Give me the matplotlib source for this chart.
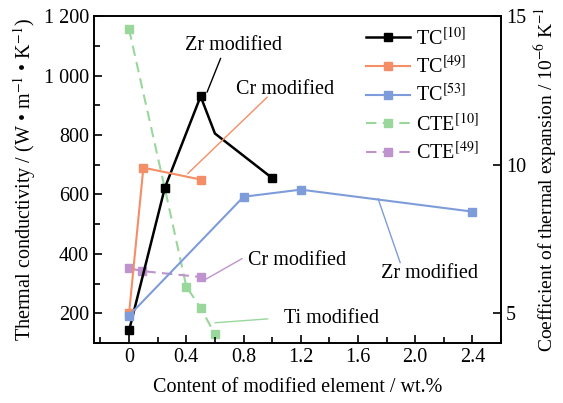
import numpy as np
import matplotlib.pyplot as plt
from matplotlib.ticker import MultipleLocator, FuncFormatter

plt.rcParams['font.family'] = ['Liberation Serif', 'DejaVu Serif']
plt.rcParams['mathtext.fontset'] = 'stix'

# TC data (left axis)
x_tc10 = [0, 0.25, 0.5, 0.6, 1.0]
y_tc10 = [142, 622, 930, 805, 655]
x_tc49 = [0, 0.1, 0.5]
y_tc49 = [200, 690, 650]
x_tc53 = [0, 0.8, 1.2, 2.4]
y_tc53 = [192, 592, 616, 542]

# CTE data (right axis)
x_cte10 = [0, 0.25, 0.4, 0.5, 0.6]
y_cte10 = [14.55, 9.2, 5.9, 5.18, 4.3]
x_cte49 = [0, 0.09, 0.5]
y_cte49 = [6.52, 6.42, 6.22]

c_black = 'black'
c_orange = '#F38E66'
c_blue = '#7E9CDA'
c_green = '#9AD79C'
c_purple = '#BE93CE'

fs = 14.5

fig = plt.figure(figsize=(5.63, 4.03), dpi=100)
ax = fig.add_axes([0.167, 0.149, 0.723, 0.811])
ax2 = ax.twinx()

ax2.plot(x_cte10, y_cte10, '--s', color=c_green, lw=1.5, ms=5.5, dashes=(5, 3), label='CTE$^{[10]}$', zorder=1)
ax2.plot(x_cte49, y_cte49, '--s', color=c_purple, lw=1.5, ms=5.5, dashes=(5, 3), label='CTE$^{[49]}$', zorder=1)

ax.set_zorder(ax2.get_zorder() + 1)
ax.patch.set_visible(False)

l1, = ax.plot(x_tc10, y_tc10, '-s', color=c_black, lw=1.8, ms=5.5, markevery=[0, 1, 2, 4], label='TC$^{[10]}$')
l2, = ax.plot(x_tc49, y_tc49, '-s', color=c_orange, lw=1.5, ms=5.5, label='TC$^{[49]}$')
l3, = ax.plot(x_tc53, y_tc53, '-s', color=c_blue, lw=1.5, ms=5.5, mfc=c_blue, label='TC$^{[53]}$')

ax.set_xlim(-0.245, 2.6)
ax.set_ylim(100, 1200)
ax2.set_ylim(4, 15)

ax.xaxis.set_major_locator(MultipleLocator(0.4))
ax.xaxis.set_minor_locator(MultipleLocator(0.2))
ax.yaxis.set_major_locator(MultipleLocator(200))
ax.yaxis.set_minor_locator(MultipleLocator(100))
ax2.yaxis.set_major_locator(MultipleLocator(5))
ax.xaxis.set_major_formatter(FuncFormatter(lambda v, p: '0' if abs(v) < 1e-9 else f'{v:.1f}'))
ax.yaxis.set_major_formatter(FuncFormatter(lambda v, p: f'{int(v):,}'.replace(',', ' ')))

ax.tick_params(which='both', direction='in', top=False, right=False, labelsize=fs)
ax.tick_params(which='major', length=6, width=1.2)
ax.tick_params(which='minor', length=4, width=1.2)
ax2.tick_params(direction='in', length=6, width=1.2, labelsize=fs)
for a in (ax, ax2):
    for s in a.spines.values():
        s.set_linewidth(1.2)

ax.set_xlabel('Content of modified element / wt.%', fontsize=fs, labelpad=8)
ax.set_ylabel('Thermal conductivity / (W • m$^{-1}$ • K$^{-1}$)', fontsize=fs, labelpad=4)
ax2.set_ylabel('Coefficient of thermal expansion / 10$^{-6}$ K$^{-1}$', fontsize=14, labelpad=5)

# annotations: (text, text pos, line start, line end, colour, ha)
notes = [
    ('Zr modified', (0.73, 1100), (0.64, 1058), (0.545, 944), c_black, 'center'),
    ('Cr modified', (1.09, 952), (0.965, 927), (0.41, 670), c_orange, 'center'),
    ('Zr modified', (2.1, 333), (1.895, 370), (1.74, 586), c_blue, 'center'),
    ('Cr modified', (0.83, 377), (0.79, 384), (0.52, 310), c_purple, 'left'),
    ('Ti modified', (1.08, 181), (0.97, 181), (0.60, 168), c_green, 'left'),
]
for txt, tpos, p0, p1, col, ha in notes:
    ax.annotate('', xy=p1, xytext=p0,
                arrowprops=dict(arrowstyle='-', color=col, lw=1.0, shrinkA=0, shrinkB=0))
    ax.text(tpos[0], tpos[1], txt, fontsize=fs, ha=ha, va='center')

h2, lab2 = ax2.get_legend_handles_labels()
ax.legend([l1, l2, l3] + h2, [l1.get_label(), l2.get_label(), l3.get_label()] + lab2,
          loc='upper right', bbox_to_anchor=(0.973, 1.0), frameon=False, fontsize=fs,
          handlelength=2.2, labelspacing=0.33, handletextpad=0.3, borderaxespad=0.15)

fig.savefig('out.png', dpi=100)
